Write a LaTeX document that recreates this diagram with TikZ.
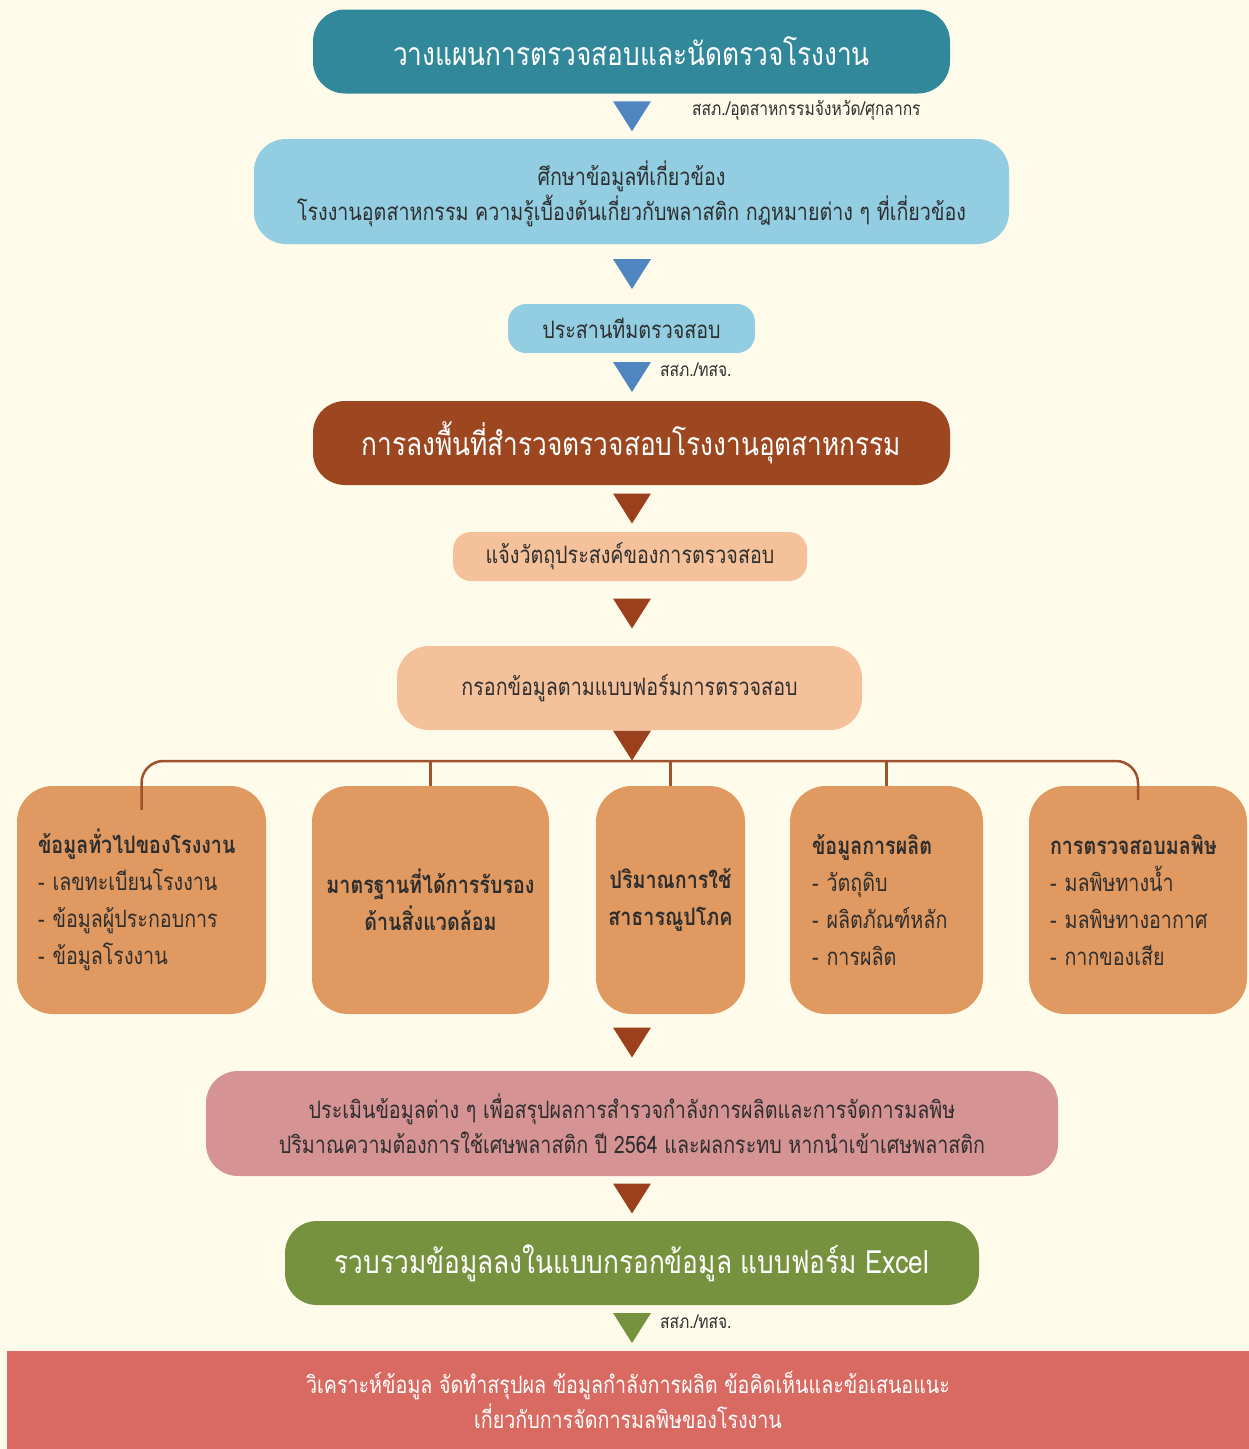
\documentclass[tikz,border=0pt]{standalone}
\usepackage{fontspec}
\newfontfamily\thaifont[Script=Thai,FakeStretch=0.82]{Loma}
\usetikzlibrary{calc}
\definecolor{bgcream}{HTML}{FFFBEB}
\definecolor{tealtop}{HTML}{32889B}
\definecolor{skyblue}{HTML}{92CDE1}
\definecolor{brownbox}{HTML}{9C4720}
\definecolor{peach}{HTML}{F4C19A}
\definecolor{orangebox}{HTML}{E09960}
\definecolor{pinkbox}{HTML}{D69394}
\definecolor{greenbox}{HTML}{76923F}
\definecolor{redbox}{HTML}{D96A62}
\definecolor{arrblue}{HTML}{4F86C0}
\definecolor{arrbrown}{HTML}{9A401C}
\definecolor{arrgreen}{HTML}{76923F}
\definecolor{linkbrown}{HTML}{A0522D}
\definecolor{darktext}{HTML}{2E2E2E}
\tikzset{
  bigbox/.style={rounded corners=32, inner sep=0pt, align=center, text=white,
    minimum height=84, font=\thaifont\fontsize{32}{36}\selectfont},
  midbox/.style={rounded corners=32, inner sep=0pt, align=center, text=darktext,
    font=\thaifont\fontsize{24}{35}\selectfont},
  catbox/.style={rounded corners=36, inner sep=0pt, fill=orangebox, text=darktext,
    minimum height=228, font=\thaifont\fontsize{24}{37}\selectfont},
  note/.style={anchor=west, inner sep=0pt, text=darktext,
    font=\thaifont\fontsize{19}{22}\selectfont},
  link/.style={draw=linkbrown, line width=2.5pt}
}
\begin{document}
\begin{tikzpicture}[x=1pt,y=-1pt]
\useasboundingbox[fill=bgcream] (0,0) rectangle (1249,1449);
% ขั้นตอนหลัก
\node[bigbox, fill=tealtop, minimum width=637] (plan) at (631.5,51.5) {วางแผนการตรวจสอบและนัดตรวจโรงงาน};
\node[note] (note1) at (692,110) {สสภ./อุตสาหกรรมจังหวัด/ศุกลากร};
\node[midbox, fill=skyblue, minimum width=755, minimum height=105] (study) at (631.5,191.5) {\rule{0pt}{30pt}ศึกษาข้อมูลที่เกี่ยวข้อง\\โรงงานอุตสาหกรรม ความรู้เบื้องต้นเกี่ยวกับพลาสติก กฎหมายต่าง ๆ ที่เกี่ยวข้อง};
\node[midbox, fill=skyblue, minimum width=247, minimum height=49, rounded corners=18] (team) at (631.5,328.5) {ประสานทีมตรวจสอบ};
\node[note] (note2) at (660,370) {สสภ./ทสจ.};
\node[bigbox, fill=brownbox, minimum width=637] (field) at (631.5,443) {การลงพื้นที่สำรวจตรวจสอบโรงงานอุตสาหกรรม};
\node[midbox, fill=peach, minimum width=354, minimum height=49, rounded corners=18] (inform) at (630,556.5) {แจ้งวัตถุประสงค์ของการตรวจสอบ};
\node[midbox, fill=peach, minimum width=465, minimum height=84] (form) at (629.5,688) {กรอกข้อมูลตามแบบฟอร์มการตรวจสอบ};
\coordinate (hub) at (632,761);
% หัวข้อที่ต้องกรอก
\node[catbox, minimum width=249, text width=207, align=left] (b1) at (141.5,900) {\textbf{ข้อมูลทั่วไปของโรงงาน}\\- เลขทะเบียนโรงงาน\\- ข้อมูลผู้ประกอบการ\\- ข้อมูลโรงงาน};
\node[catbox, minimum width=237, align=center] (b2) at (430.5,900) {\textbf{มาตรฐานที่ได้การรับรอง}\\\textbf{ด้านสิ่งแวดล้อม}};
\node[catbox, minimum width=149, align=center] (b3) at (670.5,900) {\textbf{ปริมาณการใช้}\\\textbf{สาธารณูปโภค}};
\node[catbox, minimum width=193, text width=149, align=left] (b4) at (886.5,900) {\textbf{ข้อมูลการผลิต}\\- วัตถุดิบ\\- ผลิตภัณฑ์หลัก\\- การผลิต};
\node[catbox, minimum width=218, text width=176, align=left] (b5) at (1138,900) {\textbf{การตรวจสอบมลพิษ}\\- มลพิษทางน้ำ\\- มลพิษทางอากาศ\\- กากของเสีย};
% สรุปผล
\node[midbox, fill=pinkbox, minimum width=852, minimum height=105] (assess) at (632,1123.5) {ประเมินข้อมูลต่าง ๆ เพื่อสรุปผลการสำรวจกำลังการผลิตและการจัดการมลพิษ\\ปริมาณความต้องการใช้เศษพลาสติก ปี 2564 และผลกระทบ หากนำเข้าเศษพลาสติก};
\node[bigbox, fill=greenbox, minimum width=694] (excel) at (632,1263) {รวบรวมข้อมูลลงในแบบกรอกข้อมูล แบบฟอร์ม Excel};
\node[note] (note3) at (660,1322) {สสภ./ทสจ.};
\node[midbox, fill=redbox, text=white, rounded corners=0, minimum width=1242, minimum height=98] (report) at (628,1400) {วิเคราะห์ข้อมูล จัดทำสรุปผล ข้อมูลกำลังการผลิต ข้อคิดเห็นและข้อเสนอแนะ\\เกี่ยวกับการจัดการมลพิษของโรงงาน};
% ลูกศรสามเหลี่ยม
\foreach \a/\b/\c in {plan/study/arrblue, study/team/arrblue, team/field/arrblue, field/inform/arrbrown, inform/form/arrbrown, form/hub/arrbrown, b3/assess/arrbrown, assess/excel/arrbrown, excel/report/arrgreen}{
  \path ($(\a.south)!.5!(\b.north)$) coordinate (m);
  \fill[\c] (hub |- m) ++(-19,-15) -- ++(38,0) -- ++(-19,30) -- cycle;
}
% เส้นแยก
\draw[link, rounded corners=22] ($(b1.north)+(0,24)$) |- (hub) -| ($(b5.north)+(0,14)$);
\foreach \n in {b2,b3,b4} \draw[link] (\n.north) -- (\n.north |- hub);
\end{tikzpicture}
\end{document}
